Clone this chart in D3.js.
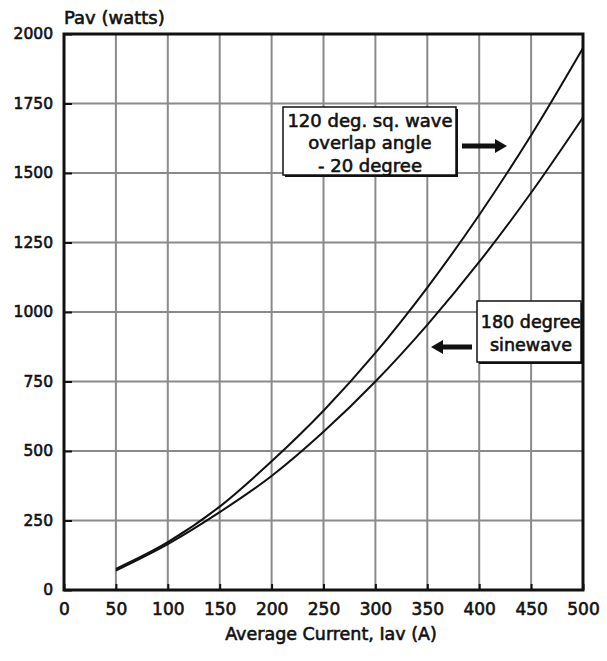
<!DOCTYPE html>
<html><head><meta charset="utf-8">
<script src="https://cdn.jsdelivr.net/npm/d3@7"></script>
<style>body{margin:0;background:#fff}svg{display:block}text{font-family:"DejaVu Sans",Verdana,sans-serif;fill:#111;stroke:#111;stroke-width:0.6px}</style>
</head><body><svg id="c" width="607" height="661"></svg>
<script>
const currents = [50,100,150,200,250,300,350,400,450,500];
const sqWave  = [76,172,300,463,645,853,1088,1349,1636,1950];
const sineWave= [70,165,280,410,569,750,954,1180,1429,1700];
const xTicks = [0,50,100,150,200,250,300,350,400,450,500];
const yTicks = [0,250,500,750,1000,1250,1500,1750,2000];
const yTitle = "Pav (watts)";
const xTitle = "Average Current, Iav (A)";
const note1 = ["120 deg. sq. wave","overlap angle","- 20 degree"];
const note2 = ["180 degree","sinewave"];

const svg = d3.select("#c");
const L=64,R=583,T=34,B=590;
const x = d3.scaleLinear().domain([0,500]).range([L,R]);
const y = d3.scaleLinear().domain([0,2000]).range([B,T]);

// grid
svg.append("g").selectAll("line").data(xTicks.slice(1,-1)).join("line")
 .attr("x1",d=>x(d)).attr("x2",d=>x(d)).attr("y1",T).attr("y2",B)
 .attr("stroke","#8a8a8a").attr("stroke-width",2);
svg.append("g").selectAll("line").data(yTicks.slice(1,-1)).join("line")
 .attr("y1",d=>y(d)).attr("y2",d=>y(d)).attr("x1",L).attr("x2",R)
 .attr("stroke","#8a8a8a").attr("stroke-width",2);

// axes with inner ticks
const gx = svg.append("g").attr("transform",`translate(0,${B})`)
 .call(d3.axisBottom(x).tickValues(xTicks).tickFormat(d3.format("d")).tickSize(-6).tickPadding(13));
const gy = svg.append("g").attr("transform",`translate(${L},0)`)
 .call(d3.axisLeft(y).tickValues(yTicks).tickFormat(d3.format("d")).tickSize(-8).tickPadding(11));
[gx,gy].forEach(g=>{g.select(".domain").remove();
 g.selectAll(".tick line").attr("stroke","#111").attr("stroke-width",2);
 g.selectAll("text").style("font-family","'DejaVu Sans',sans-serif").attr("fill","#111");});
gy.selectAll("text").style("font-size","15.5px");
gx.selectAll("text").style("font-size","17px").attr("dy","0.71em");

// frame
svg.append("rect").attr("x",L).attr("y",T).attr("width",R-L).attr("height",B-T)
 .attr("fill","none").attr("stroke","#111").attr("stroke-width",3);

// curves
const line = d3.line().x(d=>x(d[0])).y(d=>y(d[1])).curve(d3.curveMonotoneX);
[sqWave,sineWave].forEach(s=>{
 svg.append("path").datum(currents.map((c,i)=>[c,s[i]])).attr("d",line)
  .attr("fill","none").attr("stroke","#111").attr("stroke-width",2);
});

// titles
svg.append("text").attr("x",L).attr("y",24).style("font-size","18px").text(yTitle);
svg.append("text").attr("x",331).attr("y",640).attr("text-anchor","middle").style("font-size","17.5px").text(xTitle);

// annotation boxes
function box(x0,y0,w,h,lines,cx,cy0,dy,fs){
 svg.append("rect").attr("x",x0+2).attr("y",y0+2).attr("width",w).attr("height",h).attr("fill","#111");
 svg.append("rect").attr("x",x0).attr("y",y0).attr("width",w).attr("height",h).attr("fill","#fff").attr("stroke","#111").attr("stroke-width",1.5);
 lines.forEach((t,i)=>svg.append("text").attr("x",cx).attr("y",cy0+i*dy).attr("text-anchor","middle")
   .attr("dominant-baseline","central").style("font-size",fs).text(t));
}
box(283,107,173,68,note1,370,120,22.5,"18px");
box(477,301,104,61,note2,531,322,23,"17.5px");

// arrows
function arrow(x1,x2,yy){
 const dir = Math.sign(x2-x1);
 const hx = x2 - dir*12;
 svg.append("line").attr("x1",x1).attr("x2",hx).attr("y1",yy).attr("y2",yy).attr("stroke","#111").attr("stroke-width",5);
 svg.append("path").attr("d",`M${hx},${yy-7}L${x2},${yy}L${hx},${yy+7}Z`).attr("fill","#111");
}
arrow(462,507,146);
arrow(472,431,347);
</script></body></html>
